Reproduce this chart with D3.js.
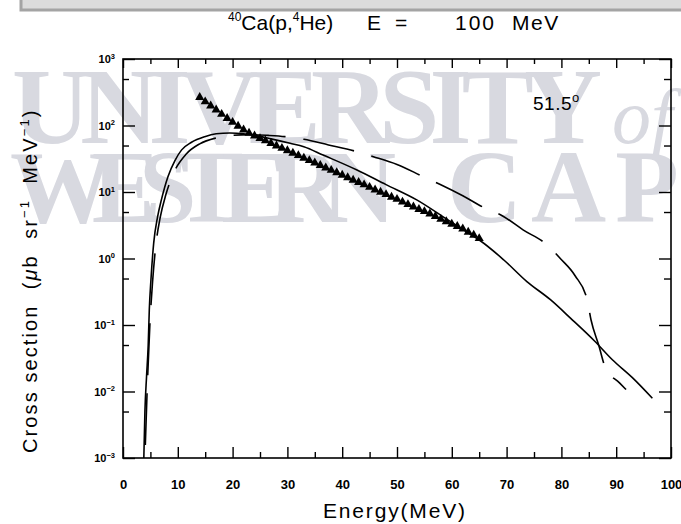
<!DOCTYPE html>
<html>
<head>
<meta charset="utf-8">
<script src="https://cdn.jsdelivr.net/npm/d3@7"></script>
<style>
  body { margin: 0; background: #fff; }
  svg { display: block; font-family: "Liberation Sans", Arial, sans-serif; }
</style>
</head>
<body>
<div id="chart"></div>
<script>
// measured spectrum (triangles)
var dataE = [14, 15, 16, 17, 18, 19, 20, 21, 22, 23, 24, 25, 26, 27, 28, 29, 30, 31, 32, 33,
             34, 35, 36, 37, 38, 39, 40, 41, 42, 43, 44, 45, 46, 47, 48, 49, 50, 51, 52, 53,
             54, 55, 56, 57, 58, 59, 60, 61, 62, 63, 64, 65];
var dataSigma = [265, 228, 198, 172, 148, 128, 112, 98, 86, 77, 70, 64, 59, 54, 49.5, 45.5, 42, 38.5, 35.5, 32.4,
                 29.8, 27.5, 25.2, 23.1, 21.3, 19.6, 18.0, 16.5, 15.1, 14.0, 12.9, 11.8, 10.8, 10.0, 9.2, 8.4,
                 7.8, 7.1, 6.5, 6.0, 5.5, 5.1, 4.7, 4.3, 3.9, 3.6, 3.3, 3.05, 2.8, 2.5, 2.25, 2.0];

// calculation, solid line
var solidE = [3.8, 4.0, 4.3, 4.6, 4.8, 5.1, 5.6, 6.3, 7.0, 8.2, 9.5, 10.7, 12.5, 14.9, 17, 19.5, 22, 24, 27, 30.5,
              33, 36.5, 42.7, 48, 53.6, 58.5, 63.4, 65.2, 69.5, 73.7, 78, 81.7, 86, 89.3, 93, 96.6];
var solidSigma = [0.001, 0.005, 0.017, 0.05, 0.17, 0.48, 1.7, 4.2, 7.6, 17, 30, 43, 56, 68, 75, 77, 75, 71, 63, 54,
                  48, 36, 21.4, 12.9, 7.6, 4.2, 2.3, 1.85, 0.95, 0.45, 0.24, 0.126, 0.058, 0.030, 0.016, 0.0079];

// calculation, dashed line
var dashE = [4.0, 4.4, 4.9, 5.4, 6.0, 6.8, 7.8, 9.2, 11.5, 14, 17, 20, 23, 26.5, 29.6, 33, 37.5, 42.4, 45.7, 50,
             54.8, 57.9, 62, 66.1, 69.2, 73, 77.4, 79.8, 82.5, 84.7, 85.4, 86.8, 88.1, 90.6, 91.8];
var dashSigma = [0.001, 0.01, 0.1, 0.45, 1.6, 4.2, 9, 19, 37, 53, 65, 71, 73, 71, 68, 62, 51, 41, 34, 26,
                 17, 13, 8.8, 5.7, 4.4, 2.7, 1.6, 1.0, 0.55, 0.24, 0.12, 0.05, 0.022, 0.0135, 0.0107];

var xMajor = [0, 10, 20, 30, 40, 50, 60, 70, 80, 90, 100];
var xMinor = [5, 15, 25, 35, 45, 55, 65, 75, 85, 95];
var yMajor = [1e-3, 1e-2, 1e-1, 1, 10, 100, 1000];
var yMinor = [5e-3, 5e-2, 5e-1, 5, 50, 500];
var yExp = ["\u22123", "\u22122", "\u22121", "0", "1", "2", "3"];

var width = 681,
    height = 524;

var svg = d3.select('#chart')
    .append('svg')
    .attr('width', width)
    .attr('height', height);

// scanned page watermark
var wm = svg.append('g')
    .attr('fill', '#d8d9e0')
    .style('font-family', '"Liberation Serif", "DejaVu Serif", serif');
wm.append('text')
    .attr('x', 12).attr('y', 143)
    .attr('font-size', 108)
    .attr('font-weight', 'bold')
    .attr('textLength', 590)
    .attr('lengthAdjust', 'spacing')
    .text('UNIVERSITY');
wm.append('text')
    .attr('x', 612).attr('y', 143)
    .attr('font-size', 78)
    .attr('font-style', 'italic')
    .text('of the');
wm.append('text')
    .attr('x', 10).attr('y', 222)
    .attr('font-size', 104)
    .attr('font-weight', 'bold')
    .attr('textLength', 386)
    .attr('lengthAdjust', 'spacing')
    .text('WESTERN');
wm.append('text')
    .attr('x', 447).attr('y', 222)
    .attr('font-size', 104)
    .attr('font-weight', 'bold')
    .attr('textLength', 310)
    .attr('lengthAdjust', 'spacing')
    .text('CAPE');

// grey strip at the top of the scan
svg.append('rect')
    .attr('x', 21).attr('y', -4)
    .attr('width', 700).attr('height', 14)
    .attr('fill', '#dcdcdc')
    .attr('stroke', '#a4a4a4')
    .attr('stroke-width', 3);

var x = d3.scaleLinear()
    .domain([0, 100])
    .range([123, 671]);

var y = d3.scaleLog()
    .domain([1e-3, 1e3])
    .range([458, 59]);

// axes, ticks pointing inward
var gx = svg.append('g')
    .attr('transform', 'translate(0,458)')
    .call(d3.axisBottom(x).tickValues(xMajor).tickSize(-11).tickPadding(22).tickFormat(d3.format('d')));
svg.append('g')
    .attr('transform', 'translate(0,458)')
    .call(d3.axisBottom(x).tickValues(xMinor).tickSize(-6).tickFormat(''));
svg.append('g')
    .attr('transform', 'translate(0,59)')
    .call(d3.axisTop(x).tickValues(xMajor).tickSize(-9).tickFormat(''));
svg.append('g')
    .attr('transform', 'translate(0,59)')
    .call(d3.axisTop(x).tickValues(xMinor).tickSize(-5).tickFormat(''));

var gy = svg.append('g')
    .attr('transform', 'translate(123,0)')
    .call(d3.axisLeft(y).tickValues(yMajor).tickSize(-12).tickPadding(8).tickFormat(''));
svg.append('g')
    .attr('transform', 'translate(123,0)')
    .call(d3.axisLeft(y).tickValues(yMinor).tickSize(-6).tickFormat(''));
svg.append('g')
    .attr('transform', 'translate(671,0)')
    .call(d3.axisRight(y).tickValues(yMajor).tickSize(-12).tickFormat(''));
svg.append('g')
    .attr('transform', 'translate(671,0)')
    .call(d3.axisRight(y).tickValues(yMinor).tickSize(-7).tickFormat(''));

svg.selectAll('.domain').remove();
svg.selectAll('.tick line').attr('stroke', '#000').attr('stroke-width', 1.4);

gx.selectAll('.tick text')
    .attr('fill', '#000')
    .attr('font-size', 13)
    .attr('font-weight', 'bold');

// 10^n labels
gy.selectAll('.tick text').each(function (d, i) {
    var t = d3.select(this)
        .attr('fill', '#000')
        .attr('font-size', 11)
        .attr('font-weight', 'bold');
    t.append('tspan').text('10');
    t.append('tspan')
        .attr('dy', '-0.55em')
        .attr('font-size', 7.5)
        .text(yExp[i]);
});

// frame
svg.append('rect')
    .attr('x', x(0)).attr('y', y(1e3))
    .attr('width', x(100) - x(0))
    .attr('height', y(1e-3) - y(1e3))
    .attr('fill', 'none')
    .attr('stroke', '#000')
    .attr('stroke-width', 1.6);

var line = d3.line()
    .x(function (d) { return x(d[0]); })
    .y(function (d) { return y(d[1]); })
    .curve(d3.curveMonotoneX);

var plot = svg.append('g');

plot.append('path')
    .datum(d3.zip(solidE, solidSigma))
    .attr('d', line)
    .attr('fill', 'none')
    .attr('stroke', '#000')
    .attr('stroke-width', 1.6);

var dashPath = plot.append('path')
    .datum(d3.zip(dashE, dashSigma))
    .attr('d', line)
    .attr('fill', 'none')
    .attr('stroke', '#000')
    .attr('stroke-width', 1.6)
    .attr('stroke-dasharray', '52,18');

// put a dash start where the printed one starts (E ~ 33)
var node = dashPath.node(),
    total = node.getTotalLength(),
    lo = 0, hi = total;
for (var k = 0; k < 30; k++) {
    var mid = (lo + hi) / 2;
    if (node.getPointAtLength(mid).x < x(32.9)) lo = mid; else hi = mid;
}
dashPath.attr('stroke-dashoffset', (70 - lo % 70) % 70);

plot.selectAll('path.pt')
    .data(d3.zip(dataE, dataSigma))
    .enter().append('path')
    .attr('class', 'pt')
    .attr('transform', function (d) {
        return 'translate(' + x(d[0]) + ',' + y(d[1]) + ')';
    })
    .attr('d', d3.symbol(d3.symbolTriangle, 36))
    .attr('fill', '#000');

// title, words placed like the printed one
var title = svg.append('text')
    .attr('y', 30)
    .attr('font-size', 21);
title.append('tspan').attr('x', 228).attr('font-size', 12).attr('dy', -9).text('40');
title.append('tspan').attr('dy', 9).text('Ca(p,');
title.append('tspan').attr('font-size', 12).attr('dy', -9).text('4');
title.append('tspan').attr('dy', 9).text('He)');
title.append('tspan').attr('x', 367).text('E');
title.append('tspan').attr('x', 395).text('=');
title.append('tspan').attr('x', 455).attr('letter-spacing', 2).text('100');
title.append('tspan').attr('x', 512).attr('letter-spacing', 1.5).text('MeV');

var ang = svg.append('text')
    .attr('x', 533).attr('y', 110)
    .attr('font-size', 19)
    .attr('letter-spacing', 0.5);
ang.append('tspan').text('51.5');
ang.append('tspan').attr('font-size', 13).attr('dy', '-0.6em').text('o');

svg.append('text')
    .attr('x', 323).attr('y', 518)
    .attr('font-size', 21)
    .attr('textLength', 142)
    .attr('lengthAdjust', 'spacing')
    .text('Energy(MeV)');

var yl = svg.append('text')
    .attr('transform', 'translate(37,453) rotate(-90)')
    .attr('font-size', 20)
    .attr('letter-spacing', 2.1)
    .style('white-space', 'pre');
yl.append('tspan').text('Cross section  (');
yl.append('tspan').attr('font-style', 'italic').text('\u03bc');
yl.append('tspan').text('b  sr');
yl.append('tspan').attr('font-size', 13).attr('dy', -8).text('\u22121');
yl.append('tspan').attr('dy', 8).text('  MeV');
yl.append('tspan').attr('font-size', 13).attr('dy', -8).text('\u22121');
yl.append('tspan').attr('dy', 8).text(')');
</script>
</body>
</html>
